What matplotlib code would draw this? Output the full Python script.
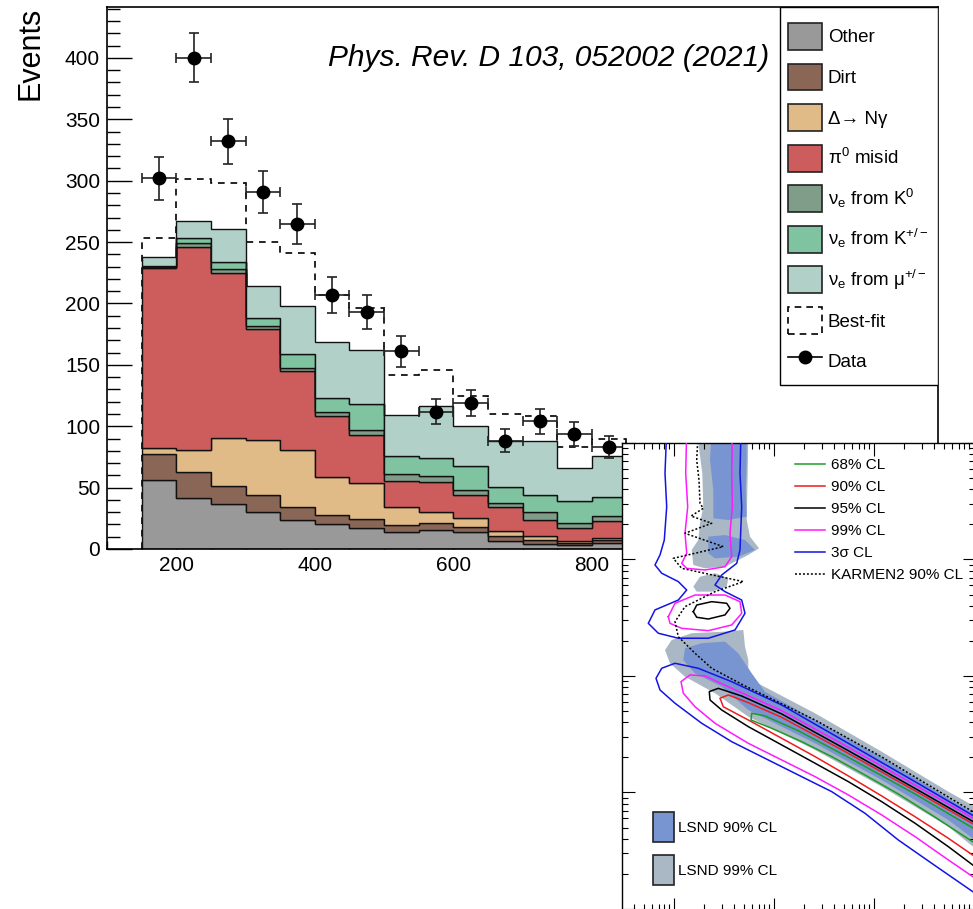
import numpy as np
import matplotlib.pyplot as plt
from matplotlib.patches import Patch, Rectangle
from matplotlib.lines import Line2D
from matplotlib.ticker import MultipleLocator

plt.rcParams["font.family"] = ["Liberation Sans", "DejaVu Sans"]
plt.rcParams["mathtext.fontset"] = "custom"
plt.rcParams["mathtext.rm"] = "Liberation Sans"
plt.rcParams["mathtext.it"] = "Liberation Sans:italic"
plt.rcParams["mathtext.bf"] = "Liberation Sans:bold"

# ---- main panel: stacked backgrounds vs E_nu (MeV) ----
BIN_EDGES = [150, 200, 250, 300, 350, 400, 450, 500, 550, 600, 650, 700, 750, 800, 850]
OTHER = [56.0, 41.5, 36.9, 30.1, 23.4, 20.4, 17.1, 13.8, 15.2, 13.6, 6.8, 4.3, 3.0, 4.9]
DIRT = [21.7, 21.2, 14.7, 14.2, 10.5, 7.6, 7.3, 5.5, 6.0, 4.3, 3.5, 3.3, 1.9, 2.7]
DELTA_NGAMMA = [4.6, 17.7, 38.8, 44.2, 47.0, 30.4, 29.4, 14.6, 8.9, 7.4, 4.6, 2.7, 1.3, 1.4]
PI0_MISID = [146.3, 165.9, 134.2, 90.7, 63.8, 49.7, 38.8, 21.8, 24.2, 19.0, 19.0, 13.6, 10.9, 13.5]
NUE_K0 = [0.9, 3.3, 3.4, 2.2, 2.8, 3.5, 4.6, 5.4, 4.9, 4.0, 3.6, 6.2, 4.1, 4.1]
NUE_KPM = [1.0, 4.0, 6.0, 6.8, 11.6, 11.4, 21.2, 14.4, 14.9, 19.0, 13.0, 14.2, 17.6, 15.8]
NUE_MU = [7.1, 13.6, 26.4, 26.1, 39.1, 45.4, 43.4, 33.9, 42.7, 32.6, 37.2, 43.4, 27.2, 33.6]
BEST_FIT = [253.6, 301.2, 298.4, 250.4, 241.2, 207.0, 196.0, 141.8, 145.5, 124.9, 110.0, 108.1, 82.8, 89.6]
DATA = [302, 400, 332, 291, 265, 207, 193, 161, 112, 119, 88, 104, 94, 83]
X_TICKS = [200, 400, 600, 800]

STACK_LABELS = ["Other", "Dirt", "Δ→ Nγ", "π$^{0}$ misid",
                "ν$_{\\mathrm{e}}$ from K$^{0}$", "ν$_{\\mathrm{e}}$ from K$^{+/-}$",
                "ν$_{\\mathrm{e}}$ from μ$^{+/-}$"]
STACK_COLORS = ["#999999", "#8a6656", "#e0ba87", "#cd5c5c", "#7f9d89", "#80c3a1", "#b1d1c8"]

# ---- inset: allowed regions, log10(sin^2 2theta) and log10(dm^2) ----
CL3S_UP_LX = [-3.073, -3.09, -3.073, -3.097, -3.14, -3.19, -3.123, -2.957, -2.873, -2.957, -3.19, -3.257,
              -3.157, -2.957, -2.657, -2.39, -2.29, -2.323, -2.49, -2.59, -2.523, -2.373, -2.34, -2.323,
              -2.34, -2.33]
CL3S_UP_LY = [2.109, 1.74, 1.453, 1.167, 1.039, 0.953, 0.882, 0.81, 0.738, 0.652, 0.567, 0.452,
              0.367, 0.324, 0.324, 0.395, 0.538, 0.652, 0.724, 0.781, 0.867, 0.967, 1.082, 1.453,
              1.74, 2.109]
CL3S_LO_LX = [0.01, -0.59, -1.257, -1.923, -2.423, -2.757, -2.99, -3.123, -3.18, -3.14, -2.99, -2.723,
              -2.423, -2.09, -1.757, -1.423, -1.09, -0.757, -0.423, 0.01]
CL3S_LO_LY = [-1.208, -0.907, -0.578, -0.249, -0.049, 0.066, 0.109, 0.066, -0.02, -0.12, -0.234, -0.406,
              -0.564, -0.707, -0.85, -0.993, -1.179, -1.408, -1.608, -1.865]
CL99_UP_LX = [-2.873, -2.883, -2.863, -2.89, -2.873, -2.923, -2.873, -2.69, -2.49, -2.423, -2.44,
              -2.417, -2.423, -2.417]
CL99_UP_LY = [2.109, 1.74, 1.453, 1.225, 1.053, 0.967, 0.924, 0.91, 0.938, 1.024, 1.225, 1.453, 1.74, 2.109]
CL99_MID_LX = [-3.057, -2.99, -2.79, -2.49, -2.34, -2.323, -2.423, -2.657, -2.923, -3.04, -3.057]
CL99_MID_LY = [0.509, 0.624, 0.695, 0.695, 0.638, 0.538, 0.438, 0.389, 0.409, 0.452, 0.509]
CL99_LO_LX = [0.01, -0.59, -1.257, -1.923, -2.423, -2.69, -2.84, -2.93, -2.907, -2.79, -2.59, -2.257,
              -1.923, -1.59, -1.257, -0.923, -0.59, -0.257, 0.01]
CL99_LO_LY = [-1.23, -0.936, -0.612, -0.298, -0.106, 0.0, 0.009, -0.049, -0.148, -0.264, -0.406, -0.578,
              -0.721, -0.864, -1.021, -1.193, -1.379, -1.579, -1.736]
CL95_MID_LX = [-2.807, -2.773, -2.623, -2.473, -2.44, -2.49, -2.657, -2.773, -2.807]
CL95_MID_LY = [0.552, 0.609, 0.638, 0.624, 0.581, 0.524, 0.489, 0.504, 0.552]
CL95_LO_LX = [0.01, -0.59, -1.257, -1.923, -2.323, -2.557, -2.647, -2.64, -2.523, -2.257, -1.923, -1.59,
              -1.257, -0.923, -0.59, -0.257, 0.01]
CL95_LO_LY = [-1.259, -0.965, -0.641, -0.326, -0.172, -0.106, -0.134, -0.206, -0.292, -0.435, -0.592,
              -0.749, -0.907, -1.079, -1.264, -1.465, -1.637]
CL90_LO_LX = [0.01, -0.59, -1.257, -1.923, -2.257, -2.457, -2.54, -2.507, -2.257, -1.923, -1.59, -1.257,
              -0.923, -0.59, -0.257, 0.01]
CL90_LO_LY = [-1.279, -0.985, -0.664, -0.355, -0.229, -0.163, -0.191, -0.264, -0.378, -0.535, -0.692,
              -0.858, -1.03, -1.208, -1.393, -1.551]
CL68_LO_LX = [0.01, -0.59, -1.257, -1.757, -2.09, -2.223, -2.23, -2.023, -1.723, -1.423, -1.09, -0.757,
              -0.423, 0.01]
CL68_LO_LY = [-1.316, -1.013, -0.698, -0.47, -0.343, -0.32, -0.378, -0.449, -0.564, -0.692, -0.85, -1.013,
              -1.193, -1.436]
KARMEN_LX = [-2.757, -2.773, -2.75, -2.74, -2.707, -2.83, -2.623, -2.89, -2.507, -3.007, -2.923, -2.307,
             -2.59, -2.89, -2.99, -2.957, -2.79, -2.623, -2.31, -1.59, -0.923, -0.257, 0.01]
KARMEN_LY = [2.109, 1.854, 1.682, 1.482, 1.439, 1.373, 1.311, 1.225, 1.11, 1.01, 0.924, 0.81, 0.724,
             0.595, 0.466, 0.337, 0.195, 0.066, -0.077, -0.378, -0.695, -1.039, -1.176]

LSND99_A_LX = [-2.773, -2.257, -2.263, -2.273, -2.24, -2.15, -2.257, -2.357, -2.49, -2.69, -2.807, -2.823,
               -2.757, -2.74, -2.707, -2.717]
LSND99_A_LY = [2.109, 2.109, 1.74, 1.339, 1.196, 1.096, 1.039, 0.996, 0.938, 0.924, 0.953, 1.082, 1.167,
               1.311, 1.453, 1.74]
LSND99_B_LX = [-2.807, -2.74, -2.59, -2.457, -2.473, -2.623, -2.773]
LSND99_B_LY = [0.767, 0.852, 0.882, 0.839, 0.767, 0.724, 0.724]
LSND99_C_LX = [0.01, -0.257, -0.923, -1.59, -2.257, -2.257, -2.29, -2.307, -2.49, -2.823, -3.023, -3.09,
               -3.04, -2.89, -2.59, -2.257, -1.59, -0.923, -0.257, 0.01]
LSND99_C_LY = [-1.122, -0.993, -0.65, -0.32, -0.02, 0.137, 0.252, 0.395, 0.381, 0.367, 0.309, 0.223, 0.109,
               -0.006, -0.148, -0.349, -0.635, -0.95, -1.294, -1.479]
LSND90_A_LX = [-2.623, -2.273, -2.273, -2.283, -2.273, -2.457, -2.607, -2.607, -2.64]
LSND90_A_LY = [2.109, 2.109, 1.854, 1.597, 1.368, 1.339, 1.353, 1.597, 1.854]
LSND90_B_LX = [-2.657, -2.49, -2.29, -2.19, -2.357, -2.59, -2.657]
LSND90_B_LY = [1.196, 1.21, 1.167, 1.082, 1.024, 1.01, 1.053]
LSND90_C_LX = [0.01, -0.257, -0.923, -1.59, -2.09, -2.223, -2.357, -2.49, -2.723, -2.89, -2.907, -2.79,
               -2.523, -2.257, -1.59, -0.923, -0.257, 0.01]
LSND90_C_LY = [-1.185, -1.05, -0.698, -0.378, -0.135, 0.023, 0.195, 0.295, 0.281, 0.238, 0.137, 0.023,
               -0.092, -0.292, -0.578, -0.893, -1.236, -1.408]

LSND90_COLOR = "#7895d2"
LSND99_COLOR = "#a9b8c4"

fig = plt.figure(figsize=(9.73, 9.09), dpi=100)

# main axes: x 107..938 px, y 7..549 px
ax = fig.add_axes([107 / 973, (909 - 549) / 909, 831 / 973, 542 / 909])
edges = np.array(BIN_EDGES, dtype=float)
centers = 0.5 * (edges[:-1] + edges[1:])

# best fit below the stack
ax.stairs(BEST_FIT, edges, baseline=0, fill=False, color="black", lw=1.2,
          linestyle=(0, (4.0, 3.5)), zorder=1)

components = [OTHER, DIRT, DELTA_NGAMMA, PI0_MISID, NUE_K0, NUE_KPM, NUE_MU]
bottom = np.zeros(len(centers))
for vals, col in zip(components, STACK_COLORS):
    top = bottom + np.array(vals)
    ax.stairs(top, edges, baseline=bottom, fill=True, facecolor=col,
              edgecolor="#111111", lw=1.0, zorder=2)
    bottom = top

data = np.array(DATA, dtype=float)
ax.errorbar(centers, data, xerr=25, yerr=np.sqrt(data), fmt="o", color="black",
            ecolor="#222222", ms=9, elinewidth=1.2, capsize=3.5, capthick=1.2, zorder=4)

ax.set_xlim(100, 1300)
ax.set_ylim(0, 441.5)
ax.set_xticks(X_TICKS)
ax.xaxis.set_minor_locator(MultipleLocator(50))
ax.yaxis.set_major_locator(MultipleLocator(50))
ax.yaxis.set_minor_locator(MultipleLocator(10))
ax.tick_params(axis="both", which="both", direction="in", top=False, right=False,
               labelsize=15, width=1.0)
ax.tick_params(axis="y", which="major", length=18, pad=5)
ax.tick_params(axis="y", which="minor", length=9)
ax.tick_params(axis="x", which="major", length=11.5, pad=5)
ax.tick_params(axis="x", which="minor", length=5.8)
for sp in ax.spines.values():
    sp.set_linewidth(1.2)

ax.set_ylabel("Events", fontsize=22, loc="top")
ax.yaxis.set_label_coords(-0.074, 1.0)

ax.text(0.532, 0.906, "Phys. Rev. D 103, 052002 (2021)", transform=ax.transAxes,
        ha="center", va="center", fontsize=21.5, style="italic")

# legend box (x 780..938 px, y 7..385 px) and its entries
ax.add_patch(Rectangle((0.8099, 0.3026), 0.1901, 0.6974, transform=ax.transAxes,
                       facecolor="white", edgecolor="black", lw=1.0, zorder=4.9))
handles = [Patch(facecolor=c, edgecolor="#222222", lw=1.2) for c in STACK_COLORS]
handles.append(Patch(facecolor="none", edgecolor="black", lw=1.2, linestyle=(0, (4, 3))))
handles.append(Line2D([0], [0], color="black", marker="o", ms=9, lw=1.2))
labels = STACK_LABELS + ["Best-fit", "Data"]
ax.legend(handles, labels, loc="upper left", bbox_to_anchor=(0.8195, 0.9705),
          borderaxespad=0, fontsize=13.5, handlelength=1.8, handleheight=1.83,
          labelspacing=0.73, handletextpad=0.32, borderpad=0, frameon=False)

# inset axes: x 622..975 px, y 443..910 px
axi = fig.add_axes([622 / 973, (909 - 910) / 909, 353 / 973, 467 / 909])
axi.set_facecolor("white")
axi.set_xscale("log")
axi.set_yscale("log")


def pts(lx, ly):
    return 10 ** np.array(lx), 10 ** np.array(ly)


for lx, ly in [(LSND99_A_LX, LSND99_A_LY), (LSND99_B_LX, LSND99_B_LY), (LSND99_C_LX, LSND99_C_LY)]:
    axi.fill(*pts(lx, ly), color=LSND99_COLOR, lw=0, zorder=1)
for lx, ly in [(LSND90_A_LX, LSND90_A_LY), (LSND90_B_LX, LSND90_B_LY), (LSND90_C_LX, LSND90_C_LY)]:
    axi.fill(*pts(lx, ly), color=LSND90_COLOR, lw=0, zorder=2)

contours = [
    ("#1414e6", [(CL3S_UP_LX, CL3S_UP_LY), (CL3S_LO_LX, CL3S_LO_LY)]),
    ("#ff1aff", [(CL99_UP_LX, CL99_UP_LY), (CL99_MID_LX, CL99_MID_LY), (CL99_LO_LX, CL99_LO_LY)]),
    ("black", [(CL95_MID_LX, CL95_MID_LY), (CL95_LO_LX, CL95_LO_LY)]),
    ("#ee1c1c", [(CL90_LO_LX, CL90_LO_LY)]),
    ("#1f9a2a", [(CL68_LO_LX, CL68_LO_LY)]),
]
for col, parts in contours:
    for lx, ly in parts:
        axi.plot(*pts(lx, ly), color=col, lw=1.1, zorder=3)
axi.plot(*pts(KARMEN_LX, KARMEN_LY), color="black", lw=1.1, linestyle=(0, (1.3, 1.3)), zorder=4)

axi.set_xlim(10 ** -3.52, 10 ** 0.01)
axi.set_ylim(10 ** -2.009, 10 ** 2.0)
axi.tick_params(axis="both", which="both", direction="in", top=True, right=True,
                labelbottom=False, labelleft=False, width=0.8)
axi.tick_params(which="major", length=9)
axi.tick_params(which="minor", length=4.5)
for sp in axi.spines.values():
    sp.set_linewidth(1.0)

line_handles = [Line2D([0], [0], color=c, lw=1.1) for c in
                ["#1f9a2a", "#ee1c1c", "black", "#ff1aff", "#1414e6"]]
line_handles.append(Line2D([0], [0], color="black", lw=1.1, linestyle=(0, (1.3, 1.3))))
line_labels = ["68% CL", "90% CL", "95% CL", "99% CL", "3σ CL", "KARMEN2 90% CL"]
leg1 = axi.legend(line_handles, line_labels, loc="upper left", bbox_to_anchor=(0.49, 0.968),
                  frameon=False, fontsize=11, handlelength=1.96, handletextpad=0.4,
                  labelspacing=0.53, borderpad=0, borderaxespad=0)
axi.add_artist(leg1)

lsnd_handles = [Patch(facecolor=LSND90_COLOR, edgecolor="#222222", lw=1.2),
                Patch(facecolor=LSND99_COLOR, edgecolor="#222222", lw=1.2)]
axi.legend(lsnd_handles, ["LSND 90% CL", "LSND 99% CL"], loc="upper left",
           bbox_to_anchor=(0.088, 0.21), frameon=False, fontsize=11, handlelength=1.37,
           handleheight=2.67, handletextpad=0.26, labelspacing=0.85, borderpad=0,
           borderaxespad=0)

fig.savefig("out.png", dpi=100, facecolor="white")
